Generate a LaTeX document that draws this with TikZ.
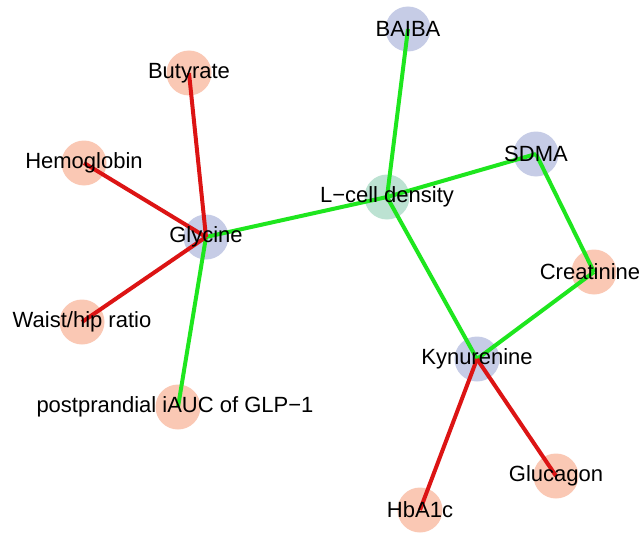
\documentclass[tikz,border=0pt]{standalone}
\usepackage{fontspec}
\setmainfont{Liberation Sans}
\usepackage{tikz}

\definecolor{salmao}{RGB}{250,200,180}
\definecolor{lavanda}{RGB}{198,204,230}
\definecolor{menta}{RGB}{188,226,210}
\definecolor{verde}{RGB}{30,230,30}
\definecolor{vermelho}{RGB}{220,20,20}

\begin{document}
\begin{tikzpicture}[x=1pt, y=-1pt,
	        met/.style={circle, draw=none, minimum size=45pt, inner sep=0pt},
	        fen/.style={met, fill=salmao},
	        bio/.style={met, fill=lavanda},
	        alvo/.style={met, fill=menta},
	        rot/.style={inner sep=0pt, font=\fontsize{22}{26}\selectfont},
	        positiva/.style={draw=verde, line width=4pt},
	        negativa/.style={draw=vermelho, line width=4pt}]
	        
	        \useasboundingbox (0,0) rectangle (643,535);
	        
	        % Círculos
	        \node (lcell) [alvo] at (387,197) {};
	        \node (baiba) [bio] at (408,29) {};
	        \node (sdma) [bio] at (536,154) {};
	        \node (gly) [bio] at (206,237) {};
	        \node (kyn) [bio] at (477,359) {};
	        \node (buty) [fen] at (189,73) {};
	        \node (hemo) [fen] at (84,163) {};
	        \node (creat) [fen] at (594,272) {};
	        \node (waist) [fen] at (82,322) {};
	        \node (post) [fen] at (178,407) {};
	        \node (gluc) [fen] at (556,476) {};
	        \node (hba) [fen] at (420,510) {};
	        
	        % Arestas
	        \draw[positiva] (lcell.center) -- (baiba.center);
	        \draw[positiva] (lcell.center) -- (sdma.center);
	        \draw[positiva] (lcell.center) -- (gly.center);
	        \draw[positiva] (lcell.center) -- (kyn.center);
	        \draw[positiva] (sdma.center) -- (creat.center);
	        \draw[positiva] (creat.center) -- (kyn.center);
	        \draw[positiva] (gly.center) -- (post.center);
	        \draw[negativa] (gly.center) -- (buty.center);
	        \draw[negativa] (gly.center) -- (hemo.center);
	        \draw[negativa] (gly.center) -- (waist.center);
	        \draw[negativa] (kyn.center) -- (hba.center);
	        \draw[negativa] (kyn.center) -- (gluc.center);
	        
	        % Rótulos
	        \node (lcellT) [rot] at (lcell) {L\char"2212 cell density};
	        \node (baibaT) [rot] at (baiba) {BAIBA};
	        \node (sdmaT) [rot] at (sdma) {SDMA};
	        \node (glyT) [rot] at (gly) {Glycine};
	        \node (kynT) [rot] at (kyn) {Kynurenine};
	        \node (butyT) [rot] at (buty) {Butyrate};
	        \node (hemoT) [rot] at (hemo) {Hemoglobin};
	        \node (creatT) [rot, xshift=-4pt] at (creat) {Creatinine};
	        \node (waistT) [rot] at (waist) {Waist/hip ratio};
	        \node (postT) [rot, xshift=-3pt] at (post) {postprandial iAUC of GLP\char"2212 1};
	        \node (glucT) [rot] at (gluc) {Glucagon};
	        \node (hbaT) [rot] at (hba) {HbA1c};
	    \end{tikzpicture}
\end{document}
